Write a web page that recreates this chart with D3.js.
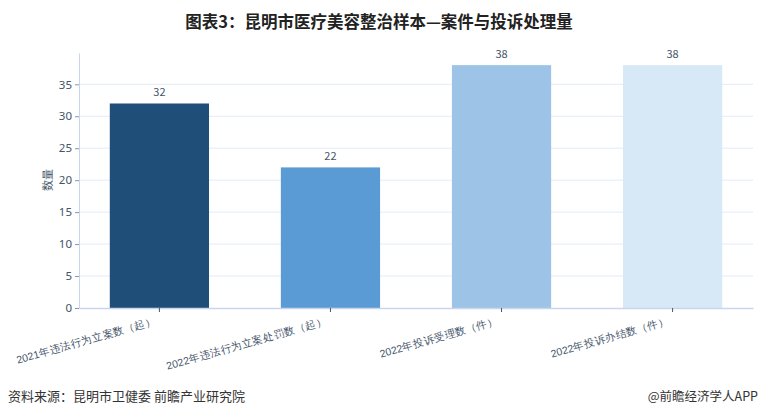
<!DOCTYPE html>
<html>
<head>
<meta charset="utf-8">
<script src="https://cdn.jsdelivr.net/npm/d3@7"></script>
<style>
  body { margin: 0; background: #fff; }
  svg { display: block; font-family: "Noto Sans CJK SC", "Noto Sans", sans-serif; }
</style>
</head>
<body>
<div id="chart"></div>
<script>
const categories = [
  '2021年违法行为立案数（起）',
  '2022年违法行为立案处罚数（起）',
  '2022年投诉受理数（件）',
  '2022年投诉办结数（件）'
];
const values = [32, 22, 38, 38];
const barColors = ['#1f4e79', '#5b9bd5', '#9dc3e6', '#d7e8f6'];
const yTicks = [0, 5, 10, 15, 20, 25, 30, 35];

const width = 760;
const height = 417;
const margin = { top: 53, right: 7, bottom: 109, left: 79 };
const innerW = width - margin.left - margin.right;
const innerH = height - margin.top - margin.bottom;
const textColor = '#44546a';

const svg = d3
  .select('#chart')
  .append('svg')
  .attr('width', width)
  .attr('height', height);

svg
  .append('text')
  .attr('x', 379)
  .attr('y', 28)
  .attr('text-anchor', 'middle')
  .style('font-size', '16.5px')
  .style('font-weight', 700)
  .attr('fill', '#222')
  .text('图表3：昆明市医疗美容整治样本—案件与投诉处理量');

const g = svg.append('g').attr('transform', `translate(${margin.left}, ${margin.top})`);

const x = d3.scaleBand().domain(categories).range([0, innerW]).paddingInner(0.42).paddingOuter(0.18);
const y = d3.scaleLinear().domain([0, 39.9]).range([innerH, 0]);

// grid
g.append('g')
  .selectAll('line')
  .data(yTicks.slice(1))
  .join('line')
  .attr('x1', 0)
  .attr('x2', innerW)
  .attr('y1', d => y(d))
  .attr('y2', d => y(d))
  .attr('stroke', '#e3ecf8')
  .attr('stroke-width', 1);

// bars
g.append('g')
  .selectAll('rect')
  .data(values)
  .join('rect')
  .attr('x', (d, i) => x(categories[i]))
  .attr('y', d => y(d))
  .attr('width', x.bandwidth())
  .attr('height', d => innerH - y(d))
  .attr('fill', (d, i) => barColors[i]);

// value labels
g.append('g')
  .selectAll('text')
  .data(values)
  .join('text')
  .attr('x', (d, i) => x(categories[i]) + x.bandwidth() / 2)
  .attr('y', d => y(d) - 7)
  .attr('text-anchor', 'middle')
  .attr('fill', textColor)
  .style('font-size', '11px')
  .text(d => d);

// y axis
const yAxis = g.append('g').call(d3.axisLeft(y).tickValues(yTicks).tickSize(4).tickSizeOuter(0));
yAxis.select('.domain').attr('stroke', '#c9d5ee');
yAxis.selectAll('.tick line').attr('stroke', '#8593b0');
yAxis
  .selectAll('text')
  .attr('fill', textColor)
  .style('font-size', '11.5px')
  .style('font-family', '"Noto Sans", sans-serif');

// x axis
const xAxis = g
  .append('g')
  .attr('transform', `translate(0, ${innerH})`)
  .call(d3.axisBottom(x).tickSize(4).tickSizeOuter(0));
xAxis.select('.domain').attr('stroke', '#c9d5ee').attr('stroke-width', 1.5);
xAxis.selectAll('.tick line').attr('stroke', '#44546a');
xAxis
  .selectAll('text')
  .attr('fill', textColor)
  .style('font-size', '10.5px')
  .attr('text-anchor', 'end')
  .attr('dy', 0)
  .attr('y', 0)
  .attr('transform', 'translate(-3, 16) rotate(-16)');

// y label
svg
  .append('text')
  .attr('transform', 'translate(52, 180) rotate(-90)')
  .attr('text-anchor', 'middle')
  .attr('fill', textColor)
  .style('font-size', '11px')
  .text('数量');

// footer
svg
  .append('text')
  .attr('x', 8)
  .attr('y', 401)
  .attr('fill', '#333')
  .style('font-size', '13px')
  .text('资料来源：昆明市卫健委  前瞻产业研究院');

svg
  .append('text')
  .attr('x', 758)
  .attr('y', 401)
  .attr('text-anchor', 'end')
  .attr('fill', '#333')
  .style('font-size', '12.5px')
  .text('@前瞻经济学人APP');
</script>
</body>
</html>
